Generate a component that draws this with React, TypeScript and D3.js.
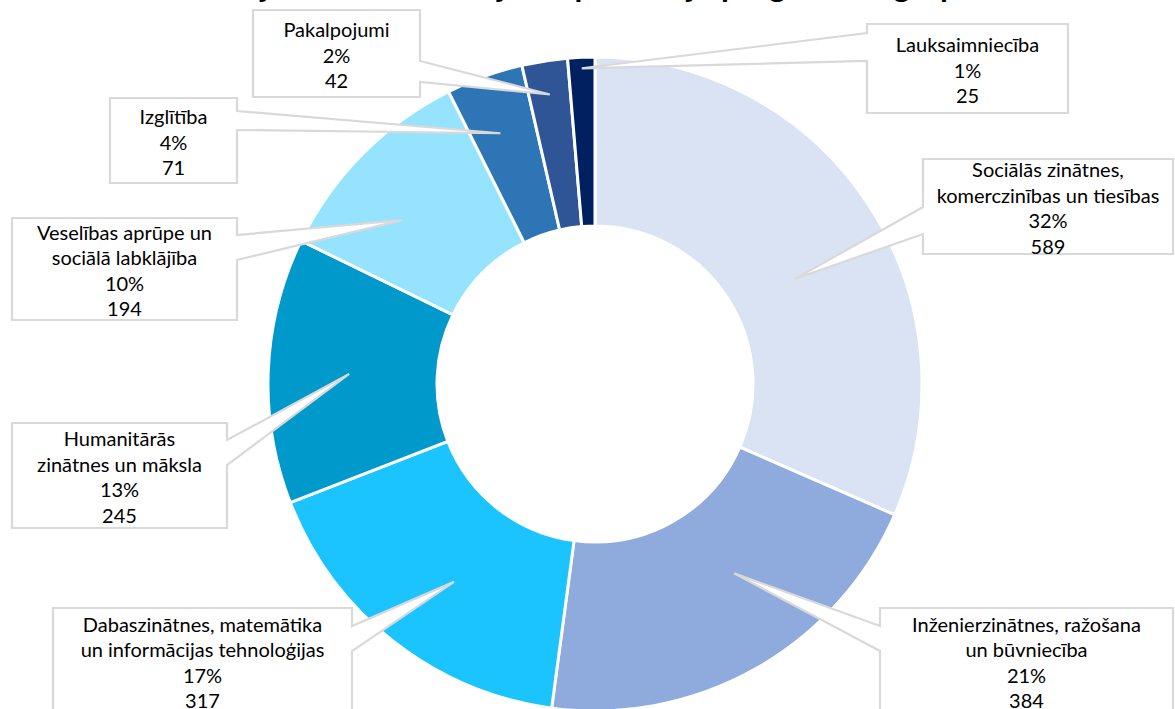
import React from "react";
import * as d3 from "d3";

const categories = [
  "Sociālās zinātnes, komerczinības un tiesības",
  "Inženierzinātnes, ražošana un būvniecība",
  "Dabaszinātnes, matemātika un informācijas tehnoloģijas",
  "Humanitārās zinātnes un māksla",
  "Veselības aprūpe un sociālā labklājība",
  "Izglītība",
  "Pakalpojumi",
  "Lauksaimniecība",
];
const labelLines = [
  ["Sociālās zinātnes,", "komerczinības un tiesības"],
  ["Inženierzinātnes, ražošana", "un būvniecība"],
  ["Dabaszinātnes, matemātika", "un informācijas tehnoloģijas"],
  ["Humanitārās", "zinātnes un māksla"],
  ["Veselības aprūpe un", "sociālā labklājība"],
  ["Izglītība"],
  ["Pakalpojumi"],
  ["Lauksaimniecība"],
];
const values = [589, 384, 317, 245, 194, 71, 42, 25];
const colors = ["#DAE3F3", "#8FAADC", "#1CC4FF", "#0099CC", "#95E3FF", "#2E75B6", "#2F5597", "#002060"];
const title = "Studējošo skaits sadalījumā pa studiju programmu grupām";

// callout layout (box, wedge side/base, pointer tip placement)
const layout = [
  { x: 923, y: 159, w: 250, h: 95, side: "left", b1: 207, b2: 234, r: 226, da: 5.5 },
  { x: 880, y: 608, w: 293, h: 106, side: "left", b1: 626, b2: 651, r: 235, da: -6.9 },
  { x: 53, y: 608, w: 299, h: 106, side: "right", b1: 626, b2: 651, r: 243, da: -2.7 },
  { x: 12, y: 423, w: 215, h: 105, side: "right", b1: 440, b2: 465, r: 246, da: 0 },
  { x: 12, y: 218, w: 225, h: 102, side: "right", b1: 235, b2: 260, r: 253, da: -4.3 },
  { x: 110, y: 98, w: 127, h: 85, side: "right", b1: 111, b2: 130, r: 268, da: -0.9 },
  { x: 253, y: 10, w: 167, h: 87, side: "right", b1: 61, b2: 82, r: 293, da: 0 },
  { x: 867, y: 24, w: 201, h: 89, side: "left", b1: 33, b2: 61, r: 316, da: 0 },
];

const W = 1175;
const H = 709;
const cx = 595;
const cy = 384;
const outerR = 327;
const innerR = 158;
const lineH = 25.6;

export default function App() {
  const total = d3.sum(values);
  const pie = d3
    .pie<number>()
    .sort(null)
    .startAngle(0)
    .endAngle(2 * Math.PI)
    .value((d) => d);
  const arcs = pie(values);
  const arc = d3.arc<d3.PieArcDatum<number>>().innerRadius(innerR).outerRadius(outerR);
  const pct = d3.format(".0%");

  return (
    <svg
      width={W}
      height={H}
      style={{ position: "absolute", left: 0, top: 0, background: "#fff" }}
      fontFamily="Lato, 'Open Sans', sans-serif"
    >
      <rect x={0} y={0} width={W} height={H} fill="#fff" />
      <text x={590} y={-3} textAnchor="middle" fontSize={32} fontWeight="bold" fill="#000">
        {title}
      </text>
      <g transform={`translate(${cx},${cy})`}>
        {arcs.map((a, i) => (
          <path key={i} d={arc(a) || ""} fill={colors[i]} stroke="#fff" strokeWidth={3} />
        ))}
      </g>
      {arcs.map((a, i) => {
        const L = layout[i];
        const mid = (a.startAngle + a.endAngle) / 2 + (L.da * Math.PI) / 180;
        const tx = cx + L.r * Math.sin(mid);
        const ty = cy - L.r * Math.cos(mid);
        const x0 = L.x;
        const x1 = L.x + L.w;
        const y0 = L.y;
        const y1 = L.y + L.h;
        let d: string;
        if (L.side === "right") {
          d = `M${x0},${y0}L${x1},${y0}L${x1},${L.b1}L${tx},${ty}L${x1},${L.b2}L${x1},${y1}L${x0},${y1}Z`;
        } else {
          d = `M${x0},${y0}L${x1},${y0}L${x1},${y1}L${x0},${y1}L${x0},${L.b2}L${tx},${ty}L${x0},${L.b1}Z`;
        }
        const lines = [...labelLines[i], pct(values[i] / total), String(values[i])];
        const midY = y0 + L.h / 2 + 1;
        const startY = midY - ((lines.length - 1) * lineH) / 2;
        return (
          <g key={"c" + i}>
            <path d={d} fill="#fff" stroke="#D9D9D9" strokeWidth={2.2} strokeLinejoin="miter" />
            {lines.map((t, j) => (
              <text
                key={j}
                x={x0 + L.w / 2}
                y={startY + j * lineH}
                textAnchor="middle"
                dominantBaseline="central"
                fontSize={20}
                fill="#000"
              >
                {t}
              </text>
            ))}
          </g>
        );
      })}
    </svg>
  );
}
